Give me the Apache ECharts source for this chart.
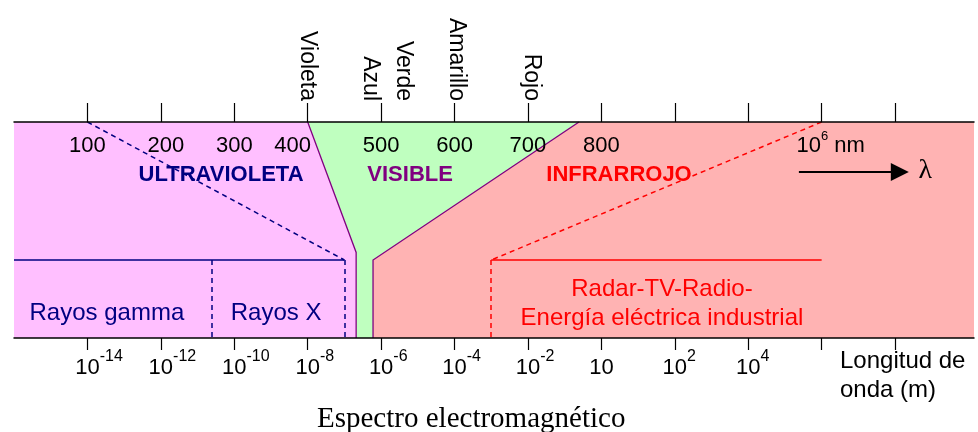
<!DOCTYPE html>
<html>
<head>
<meta charset="utf-8">
<script src="https://cdn.jsdelivr.net/npm/echarts@6/dist/echarts.min.js"></script>
<style>
html,body{margin:0;padding:0;background:#fff;}
#chart{width:978px;height:432px;}
</style>
</head>
<body>
<div id="chart"></div>
<script>
// ---- Data (diagram units: x = log10 of wavelength in metres, y = 0..100 of band height) ----
const bottomTickValues = [-14, -12, -10, -8, -6, -4, -2, 0, 2, 4, 6, 8];
const bottomLabelExponents = [-14, -12, -10, -8, -6, -4, -2, 0, 2, 4];
const topTickValues = [100, 200, 300, 400, 500, 600, 700, 800, 900, 1000, 1100, 1200]; // nm scale of the diagram
const topLabelValues = [100, 200, 300, 400, 500, 600, 700, 800, 1100];
const topLabelTexts = ['100', '200', '300', '400', '500', '600', '700', '800', '10^6 nm'];
const colorNames = ['Violeta', 'Azul', 'Verde', 'Amarillo', 'Rojo'];
const colorNm = [400, 485, 530, 603, 705];

const uvRegion = [[-16, 0], [-16, 100], [-8, 100], [-6.68, 39.6], [-6.68, 0]];
const visRegion = [[-8, 100], [-0.61, 100], [-6.22, 36.1], [-6.22, 0], [-6.68, 0], [-6.68, 39.6]];
const irRegion = [[-0.61, 100], [10.15, 100], [10.15, 0], [-6.22, 0], [-6.22, 36.1]];
const uvBoundary = [[-8, 100], [-6.68, 39.6], [-6.68, 0]];
const irBoundary = [[-0.61, 100], [-6.22, 36.1], [-6.22, 0]];

const blueSolid = [[-16, 36.1], [-7, 36.1]];
const blueDashed = [[[-14, 100], [-7, 36.1]], [[-7, 36.1], [-7, 0]], [[-10.6, 36.1], [-10.6, 0]]];
const redSolid = [[-3, 36.1], [6, 36.1]];
const redDashed = [[[6, 100], [-3, 36.1]], [[-3, 36.1], [-3, 0]]];
const arrowLine = [[5.38, 76.8], [8.13, 76.8]];

const bandNames = ['ULTRAVIOLETA', 'VISIBLE', 'INFRARROJO'];
const bandX = [-10.36, -5.21, 0.48];
const bandY = [75.5, 75.5, 75.5];
const subNames = ['Rayos gamma', 'Rayos X', 'Radar-TV-Radio-\nEnergía eléctrica industrial'];
const subX = [-13.47, -8.86, 1.65];
const subY = [11.6, 11.6, 16.0];
const lambdaPos = [8.82, 77.3];

// ---- Styles ----
const SANS = 'Liberation Sans, Arial, sans-serif';
const regions = [uvRegion, visRegion, irRegion];
const regionColors = ['#ffbfff', '#bfffbf', '#ffb3b3'];
const bandColors = ['#000080', '#800080', '#ff0000'];
const subColors = ['#000080', '#000080', '#ff0000'];
const NAVY = '#000080', RED = '#ff0000', PURPLE = '#800080';
const topLabelShift = {200: 10, 400: -30};

const chart = echarts.init(document.getElementById('chart'), null, {renderer: 'canvas'});

function topFormatter(v) {
  const i = topLabelValues.indexOf(Math.round(v));
  if (i < 0) return '';
  const txt = topLabelTexts[i];
  if (txt.indexOf('^') >= 0) {
    const p = txt.split('^');
    const sup = p[1].split(' ')[0];
    const rest = p[1].slice(sup.length);
    return '{h| }{t|' + p[0] + '}{u|' + sup + '}{t|' + rest + '}';
  }
  const sh = topLabelShift[Math.round(v)];
  if (sh > 0) return '{h' + sh + '| }{t|' + txt + '}';
  if (sh < 0) return '{t|' + txt + '}{h' + (-sh) + '| }';
  return '{t|' + txt + '}';
}

function bottomFormatter(v) {
  const e = Math.round(v);
  if (bottomLabelExponents.indexOf(e) < 0) return '';
  if (e === 0) return '{b|10}';
  return '{p|' + e + '}{b|10}{s|' + e + '}';
}

const option = {
  animation: false,
  backgroundColor: '#ffffff',
  title: [
    {
      text: 'Espectro electromagnético',
      left: 317, top: 405, padding: 0,
      textStyle: {fontFamily: 'Liberation Serif, Times New Roman, serif', fontSize: 29, fontWeight: 'normal', color: '#000'}
    },
    {
      text: 'Longitud de\nonda (m)',
      left: 840, top: 347, padding: 0,
      textStyle: {fontFamily: SANS, fontSize: 24, lineHeight: 29, fontWeight: 'normal', color: '#000'}
    }
  ],
  grid: {left: 14, right: 4, top: 122, bottom: 94, containLabel: false},
  xAxis: [
    {
      type: 'value', position: 'bottom', min: -16, max: 10.15, z: 10,
      axisLine: {show: true, onZero: false, lineStyle: {color: '#000', width: 1.5}},
      axisTick: {show: true, inside: false, length: 12, customValues: bottomTickValues, lineStyle: {color: '#000', width: 1.2}},
      axisLabel: {
        show: true, customValues: bottomLabelExponents, margin: 11, formatter: bottomFormatter,
        rich: {
          b: {fontFamily: SANS, fontSize: 22, lineHeight: 22, padding: [15, 0, 0, 0], color: '#000'},
          s: {fontFamily: SANS, fontSize: 16, lineHeight: 16, verticalAlign: 'top', color: '#000'},
          p: {fontFamily: SANS, fontSize: 16, lineHeight: 16, verticalAlign: 'top', color: 'rgba(0,0,0,0)'}
        }
      },
      splitLine: {show: false}
    },
    {
      type: 'value', position: 'top', min: 0, max: 1307.5, z: 10,
      axisLine: {show: true, onZero: false, lineStyle: {color: '#000', width: 1.5}},
      axisTick: {show: true, inside: false, length: 19, customValues: topTickValues, lineStyle: {color: '#000', width: 1.2}},
      axisLabel: {
        show: true, inside: true, customValues: topLabelValues, margin: 8, formatter: topFormatter,
        rich: {
          t: {fontFamily: SANS, fontSize: 22, lineHeight: 22, padding: [9, 0, 0, 0], color: '#000'},
          u: {fontFamily: SANS, fontSize: 13, lineHeight: 13, verticalAlign: 'top', color: '#000'},
          h: {width: 18, color: 'rgba(0,0,0,0)'},
          h10: {width: 10, color: 'rgba(0,0,0,0)'},
          h30: {width: 30, color: 'rgba(0,0,0,0)'}
        }
      },
      splitLine: {show: false}
    },
    {
      type: 'value', position: 'top', min: 0, max: 1307.5, z: 10,
      axisLine: {show: false, onZero: false},
      axisTick: {show: false},
      axisLabel: {
        show: true, customValues: colorNm, rotate: 90, margin: 21,
        fontFamily: SANS, fontSize: 23, color: '#000',
        formatter: function (v) { const i = colorNm.indexOf(Math.round(v)); return i >= 0 ? colorNames[i] : ''; }
      },
      splitLine: {show: false}
    }
  ],
  yAxis: {type: 'value', min: 0, max: 100, show: false},
  series: [
    {
      type: 'custom', coordinateSystem: 'cartesian2d', xAxisIndex: 0, yAxisIndex: 0, z: 1, silent: true,
      data: regions.map(function (r, i) { return [r[0][0], r[0][1], i]; }),
      renderItem: function (params, api) {
        const r = regions[params.dataIndex];
        return {
          type: 'polygon',
          shape: {points: r.map(function (p) { return api.coord(p); })},
          style: {fill: regionColors[params.dataIndex], stroke: null}
        };
      }
    },
    {
      type: 'lines', coordinateSystem: 'cartesian2d', xAxisIndex: 0, yAxisIndex: 0, polyline: true, z: 3, silent: true,
      symbol: 'none',
      lineStyle: {color: PURPLE, width: 1.3, opacity: 1},
      data: [{coords: uvBoundary}, {coords: irBoundary}]
    },
    {
      type: 'lines', coordinateSystem: 'cartesian2d', xAxisIndex: 0, yAxisIndex: 0, z: 4, silent: true,
      symbol: 'none',
      lineStyle: {color: NAVY, width: 1.5, opacity: 1},
      data: [{coords: blueSolid}].concat(blueDashed.map(function (c) { return {coords: c, lineStyle: {type: [5, 4]}}; }))
    },
    {
      type: 'lines', coordinateSystem: 'cartesian2d', xAxisIndex: 0, yAxisIndex: 0, z: 4, silent: true,
      symbol: 'none',
      lineStyle: {color: RED, width: 1.5, opacity: 1},
      data: [{coords: redSolid}].concat(redDashed.map(function (c) { return {coords: c, lineStyle: {type: [5, 4]}}; }))
    },
    {
      type: 'lines', coordinateSystem: 'cartesian2d', xAxisIndex: 0, yAxisIndex: 0, z: 4, silent: true,
      symbol: ['none', 'triangle'], symbolSize: 18,
      lineStyle: {color: '#000', width: 2, opacity: 1},
      itemStyle: {color: '#000'},
      data: [{coords: arrowLine}]
    },
    {
      type: 'scatter', xAxisIndex: 0, yAxisIndex: 0, z: 6, silent: true, symbolSize: 0,
      itemStyle: {opacity: 1},
      label: {show: true, position: 'inside', formatter: '{b}', fontFamily: SANS, opacity: 1},
      data: bandNames.map(function (n, i) {
        return {name: n, value: [bandX[i], bandY[i]], label: {color: bandColors[i], fontSize: 22, fontWeight: 'bold'}};
      }).concat(subNames.map(function (n, i) {
        return {name: n, value: [subX[i], subY[i]], label: {color: subColors[i], fontSize: 24, lineHeight: 29, align: 'center'}};
      })).concat([{name: 'λ', value: lambdaPos, label: {color: '#000', fontSize: 28, fontFamily: 'Liberation Serif, serif'}}])
    }
  ]
};
chart.setOption(option);
</script>
</body>
</html>
